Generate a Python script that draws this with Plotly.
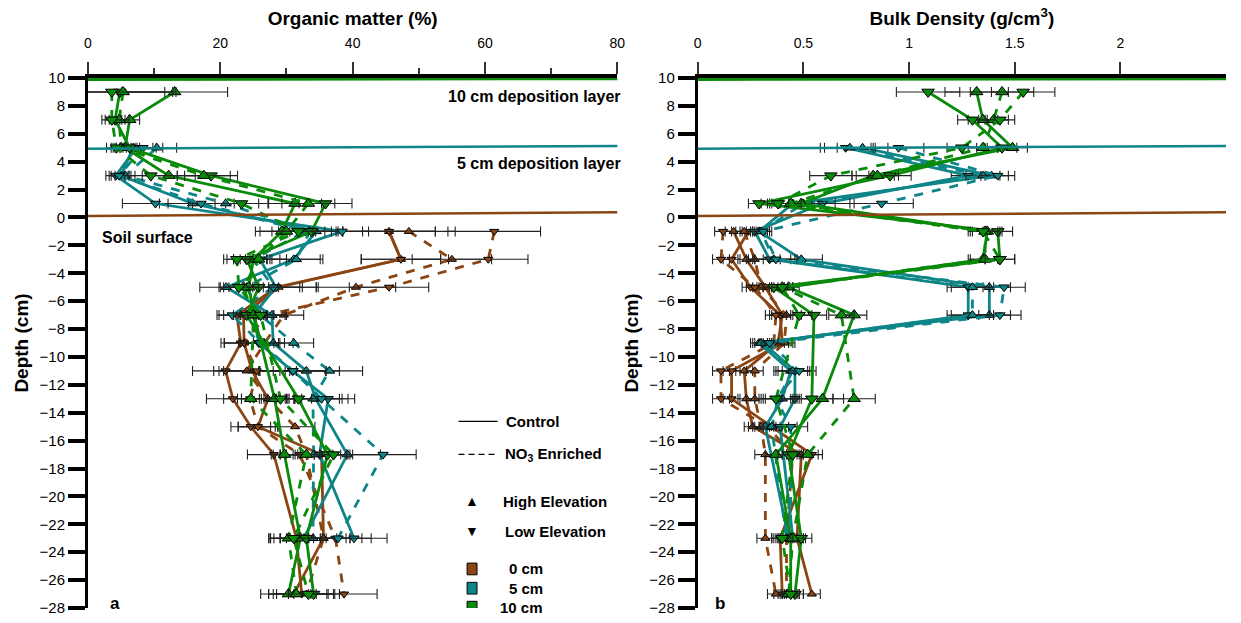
import plotly.graph_objects as go

N = None
DEPTH = [9, 7, 5, 3, 1, -1, -3, -5, -7, -9, -11, -13, -15, -17, -23, -27]

# ---------------- Organic matter (%) ----------------
om_0_hc = [N, N, N, N, N, 45.5, 47.3, 28.8, 23.5, 23.6, 24.8, 27.2, 25.7, 35.3, 35.6, 31.1]
om_0_lc = [N, N, N, N, N, 45.5, 47.3, 28.5, 22.5, 23.1, 20.8, 21.9, 24.6, 28.1, 31.5, 32.3]
om_0_hn = [N, N, N, N, N, 48.5, 55.0, 40.5, 29.6, 26.7, 24.0, 27.2, 31.3, 33.0, 35.6, 33.0]
om_0_ln = [N, N, N, N, N, 61.4, 60.5, 45.5, 27.0, 23.6, 25.5, 24.5, 25.7, 32.0, 37.4, 38.7]

om_5_hc = [N, N, 6.8, 5.0, 15.8, 34.5, 31.1, 20.9, 27.8, 28.0, 33.0, 34.4, N, 39.2, 32.6, N]
om_5_lc = [N, N, 7.3, 4.2, 10.2, 38.4, 26.0, 28.4, 25.0, 25.8, 30.9, 36.3, N, 35.0, 40.2, N]
om_5_hn = [N, N, 10.4, 5.6, 20.8, 33.5, 31.5, 24.0, 26.0, 31.1, 36.5, 34.0, N, 34.1, 34.0, N]
om_5_ln = [N, N, 8.3, 4.7, 17.1, 32.8, 25.0, 28.0, 21.8, 26.0, 31.0, 35.3, N, 44.6, 37.8, N]

om_10_hc = [13.1, 6.3, 5.6, 12.2, 31.3, 29.3, 25.0, 24.3, 25.1, N, N, 28.2, N, 29.7, 32.1, 30.3]
om_10_lc = [4.8, 4.1, 6.3, 18.6, 35.9, 33.8, 24.0, 25.8, 24.0, N, N, 31.8, N, 36.2, 33.0, 34.1]
om_10_hn = [5.3, 4.7, 5.0, 17.5, 33.3, 30.0, 25.8, 23.5, 25.0, N, N, 24.6, N, 33.0, 30.3, 31.5]
om_10_ln = [3.6, 3.6, 4.3, 9.5, 23.2, 31.8, 22.5, 22.8, 26.1, N, N, 29.1, N, 37.1, 31.1, 33.3]

om_err_0 = [0, 0, 0, 0, 0, 7, 6, 6, 3, 3, 5, 4, 3, 4, 4, 5]
om_err_5 = [0, 0, 3, 1.5, 5, 4, 4, 4, 2, 3, 5, 4, 0, 5, 5, 0]
om_err_10 = [8, 1.5, 1.5, 4, 4, 4, 2, 3, 2, 0, 0, 2, 0, 2, 3, 3]

# ---------------- Bulk density (g/cm3) ----------------
bd_0_hc = [N, N, N, N, N, 0.17, 0.23, 0.32, 0.40, 0.38, 0.22, 0.23, 0.26, 0.49, 0.47, 0.54]
bd_0_lc = [N, N, N, N, N, 0.24, 0.16, 0.25, 0.39, 0.40, 0.16, 0.16, 0.35, 0.54, 0.39, 0.40]
bd_0_hn = [N, N, N, N, N, 0.22, 0.27, 0.30, 0.42, 0.41, 0.27, 0.27, 0.30, 0.32, 0.32, 0.37]
bd_0_ln = [N, N, N, N, N, 0.12, 0.11, 0.27, 0.37, 0.36, 0.11, 0.11, 0.33, 0.45, 0.42, 0.42]

bd_5_hc = [N, N, 0.78, 1.39, 0.45, 0.29, 0.49, 1.38, 1.38, 0.29, 0.44, 0.40, 0.32, N, 0.43, N]
bd_5_lc = [N, N, 0.70, 1.28, 0.59, 0.27, 0.34, 1.28, 1.28, 0.31, 0.46, 0.46, 0.39, N, 0.45, N]
bd_5_hn = [N, N, 0.72, 1.35, 0.50, 0.30, 0.36, 1.30, 1.30, 0.30, 0.45, 0.38, 0.35, N, 0.42, N]
bd_5_ln = [N, N, 0.95, 1.42, 0.87, 0.31, 0.37, 1.45, 1.43, 0.34, 0.48, 0.37, 0.44, N, 0.44, N]

bd_10_hc = [1.32, 1.35, 1.49, 0.83, 0.49, 1.37, 1.35, 0.43, 0.74, N, N, 0.59, N, 0.37, 0.44, 0.44]
bd_10_lc = [1.09, 1.30, 1.44, 0.91, 0.29, 1.42, 1.43, 0.36, 0.55, N, N, 0.54, N, 0.43, 0.49, 0.46]
bd_10_hn = [1.44, 1.40, 1.35, 0.85, 0.44, 1.36, 1.36, 0.40, 0.68, N, N, 0.74, N, 0.52, 0.45, 0.43]
bd_10_ln = [1.54, 1.43, 1.25, 0.63, 0.38, 1.35, 1.43, 0.40, 0.48, N, N, 0.37, N, 0.45, 0.40, 0.44]

bd_err_0 = [0, 0, 0, 0, 0, 0.04, 0.04, 0.04, 0.05, 0.05, 0.04, 0.04, 0.04, 0.05, 0.04, 0.04]
bd_err_5 = [0, 0, 0.12, 0.08, 0.15, 0.04, 0.1, 0.1, 0.1, 0.04, 0.08, 0.08, 0.08, 0, 0.05, 0]
bd_err_10 = [0.15, 0.07, 0.07, 0.1, 0.05, 0.07, 0.07, 0.05, 0.06, 0, 0, 0.1, 0, 0.05, 0.05, 0.04]

BROWN, TEAL, GREEN = "#8B4513", "#0E8587", "#0A8A0A"
FONT = "Arial, Liberation Sans, sans-serif"

fig = go.Figure()

panels = [
    ("x", "y", [
        (om_0_hc, om_0_lc, om_0_hn, om_0_ln, om_err_0, BROWN, 8),
        (om_5_hc, om_5_lc, om_5_hn, om_5_ln, om_err_5, TEAL, 9),
        (om_10_hc, om_10_lc, om_10_hn, om_10_ln, om_err_10, GREEN, 11),
    ]),
    ("x2", "y2", [
        (bd_0_hc, bd_0_lc, bd_0_hn, bd_0_ln, bd_err_0, BROWN, 8),
        (bd_5_hc, bd_5_lc, bd_5_hn, bd_5_ln, bd_err_5, TEAL, 9),
        (bd_10_hc, bd_10_lc, bd_10_hn, bd_10_ln, bd_err_10, GREEN, 11),
    ]),
]

for xa, ya, groups in panels:
    for hc, lc, hn, ln, err, col, msize in groups:
        for vals, sym, dash in [(hc, "triangle-up", "solid"), (lc, "triangle-down", "solid"),
                                (hn, "triangle-up", "dash"), (ln, "triangle-down", "dash")]:
            fig.add_trace(go.Scatter(
                x=vals, y=DEPTH, xaxis=xa, yaxis=ya, mode="lines+markers",
                connectgaps=True, showlegend=False,
                line=dict(color=col, width=2.8, dash=dash),
                marker=dict(symbol=sym, size=msize, color=col, line=dict(color="black", width=1)),
                error_x=dict(type="data", array=err, color="#222222", thickness=1.1, width=5),
            ))

# deposition layer lines
for xd, yr in [("x domain", "y"), ("x2 domain", "y2")]:
    fig.add_shape(type="line", xref=xd, yref=yr, x0=0, x1=1, y0=9.9, y1=9.95,
                  line=dict(color=GREEN, width=3))
    fig.add_shape(type="line", xref=xd, yref=yr, x0=0, x1=1, y0=4.93, y1=5.13,
                  line=dict(color=TEAL, width=2.5))
    fig.add_shape(type="line", xref=xd, yref=yr, x0=0, x1=1, y0=0.1, y1=0.38,
                  line=dict(color=BROWN, width=2.5))

ann = []
def txt(x, y, s, size=16, xanchor="left", xref="x", yref="y", xshift=0):
    ann.append(dict(x=x, y=y, xref=xref, yref=yref, text=s, showarrow=False, xshift=xshift,
                    xanchor=xanchor, yanchor="middle", font=dict(family=FONT, size=size, color="black")))

txt(1.0, 8.7, "<b>10 cm deposition layer</b>", xanchor="right", xref="x domain", xshift=6)
txt(1.0, 3.9, "<b>5 cm deposition layer</b>", xanchor="right", xref="x domain", xshift=6)
txt(1.8, -1.45, "<b>Soil surface</b>")
txt(3.0, -27.7, "<b>a</b>", size=17)
txt(0.07, -27.65, "<b>b</b>", size=17, xref="x2", yref="y2")

# legend (drawn inside panel a)
txt(62.9, -14.6, "<b>Control</b>", size=15)
txt(62.7, -17.0, "<b>NO<sub>3</sub> Enriched</b>", size=15)
txt(58.0, -20.35, "▲", size=14, xanchor="center")
txt(62.4, -20.35, "<b>High Elevation</b>", size=15)
txt(58.0, -22.5, "▼", size=14, xanchor="center")
txt(62.7, -22.5, "<b>Low Elevation</b>", size=15)
for yv, col, lab, xl in [(-25.2, BROWN, "0 cm", 63.3), (-26.58, TEAL, "5 cm", 63.3), (-27.94, GREEN, "10 cm", 62.0)]:
    fig.add_shape(type="rect", xref="x", yref="y", x0=57.3, x1=58.8, y0=yv - 0.42, y1=yv + 0.42,
                  fillcolor=col, line=dict(color="black", width=1))
    txt(xl, yv, "<b>%s</b>" % lab, size=15)
fig.add_shape(type="line", xref="x", yref="y", x0=56.0, x1=61.9, y0=-14.62, y1=-14.62,
              line=dict(color="black", width=1.2))
fig.add_shape(type="line", xref="x", yref="y", x0=56.0, x1=61.9, y0=-16.99, y1=-16.99,
              line=dict(color="black", width=1.2, dash="6px,4px"))

xcommon = dict(side="top", showgrid=False, zeroline=False, showline=True, linewidth=4,
               linecolor="black", ticks="outside", ticklen=12, tickwidth=1.5, tickcolor="#333333",
               ticklabelstandoff=8,
               tickfont=dict(family=FONT, size=14, color="black"),
               title_font=dict(family=FONT, size=19, color="black"), fixedrange=True)
ycommon = dict(range=[-28, 10], tick0=0, dtick=2, showgrid=False, zeroline=False, showline=True,
               linewidth=3, linecolor="black", ticks="outside", ticklen=17, tickwidth=3.5,
               tickcolor="black", tickfont=dict(family=FONT, size=15, color="black"),
               title_font=dict(family=FONT, size=19, color="black"), domain=[0, 1])

fig.update_layout(
    width=1241, height=623, margin=dict(l=88, r=7, t=78, b=14),
    paper_bgcolor="white", plot_bgcolor="white", showlegend=False,
    xaxis=dict(xcommon, domain=[0, 0.4651], range=[0, 80], tickvals=[0, 20, 40, 60, 80], anchor="y",
               minor=dict(dtick=10, ticklen=6, tickwidth=1.5, tickcolor="#333333", ticks="outside"),
               title=dict(text="<b>Organic matter (%)</b>", standoff=6)),
    xaxis2=dict(xcommon, domain=[0.5358, 1], range=[0, 2.5], tickvals=[0, 0.5, 1, 1.5, 2],
                ticktext=["0", "0.5", "1", "1.5", "2"], anchor="y2",
                title=dict(text="<b>Bulk Density (g/cm<sup>3</sup>)</b>", standoff=6)),
    yaxis=dict(ycommon, anchor="x", title=dict(text="<b>Depth (cm)</b>", standoff=6)),
    yaxis2=dict(ycommon, anchor="x2", title=dict(text="<b>Depth (cm)</b>", standoff=6)),
    annotations=ann,
)

fig.write_html("out.html")
